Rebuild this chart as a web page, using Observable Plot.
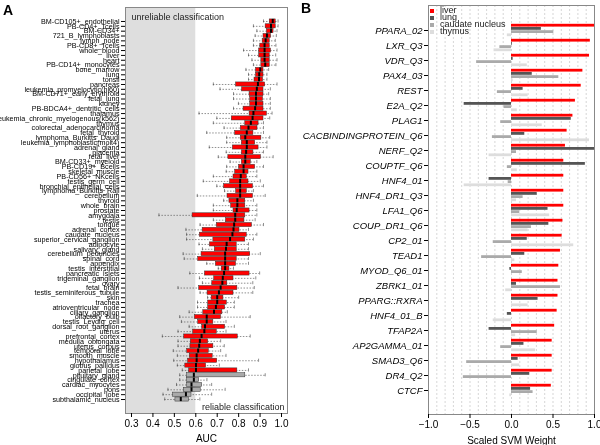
<!DOCTYPE html>
<html><head><meta charset="utf-8">
<script src="https://cdn.jsdelivr.net/npm/d3@7"></script>
<script src="https://cdn.jsdelivr.net/npm/@observablehq/plot@0.6"></script>
<style>
html,body{margin:0;padding:0;background:#fff;}
#wrap{position:relative;width:600px;height:445px;overflow:hidden;font-family:"Liberation Sans",Arial,Helvetica,sans-serif;}
#panelA,#panelB{position:absolute;top:0;}
#panelA{left:0;} #panelB{left:300px;}
#wrap svg{opacity:0.999;will-change:transform;}
.plab{position:absolute;font-weight:bold;font-size:14px;line-height:14px;}
#legend{position:absolute;left:430px;top:7px;font-size:9px;}
.li{display:flex;align-items:center;height:7px;line-height:7px;}
.sw{width:4px;height:4px;margin-right:6px;}
</style></head>
<body>
<div id="wrap">
  <div id="panelA"></div>
  <div id="panelB"></div>
  <div class="plab" style="left:3px;top:3px;">A</div>
  <div class="plab" style="left:301px;top:1px;">B</div>
  <div id="legend"></div>
</div>
<script>
// ---------- Panel A data ----------
const tissues = ["BM-CD105+_endothelial","PB-CD4+_Tcells","BM-CD34+","721_B_lymphoblasts","lymph_node","PB-CD8+_Tcells","whole_blood","liver","heart","PB-CD14+_monocytes","bone_marrow","lung","tonsil","pancreas","leukemia_promyelocytic(hl60)","BM-CD71+_early_erythroid","fetal_lung","kidney","PB-BDCA4+_dentritic_cells","thalamus","leukemia_chronic_myelogenous(k562)","thymus","colorectal_adenocarcinoma","fetal_thyroid","lymphoma_Burkitts_Daudi","leukemia_lymphoblastic(molt4)","adrenal_gland","placenta","fetal_liver","BM-CD33+_myeloid","PB-CD19+_Bcells","skeletal_muscle","PB-CD56+_NKcells","testis_germ_cell","bronchial_epithelial_cells","lymphoma_Burkitts_Raji","cerebellum","thyroid","whole_brain","prostate","amygdala","testis","tongue","adrenal_cortex","caudate_nucleus","superior_cervical_ganglion","adipocyte","salivary_gland","cerebellum_peduncles","spinal_cord","appendix","testis_interstitial","pancreatic_islets","trigeminal_ganglion","ovary","fetal_brain","testis_seminiferous_tubule","skin","trachea","atrioventricular_node","ciliary_ganglion","olfactory_bulb","testis_Leydig_cell","dorsal_root_ganglion","uterus","prefrontal_cortex","medulla_oblongata","uterus_corpus","temporal_lobe","smooth_muscle","hypothalamus","globus_pallidus","parietal_lobe","pituitary_gland","cingulate_cortex","cardiac_myocytes","pons","occipital_lobe","subthalamic_nucleus"];
const whiskerLow = [0.916,0.869,0.885,0.877,0.869,0.869,0.823,0.846,0.862,0.869,0.834,0.846,0.846,0.682,0.713,0.776,0.776,0.799,0.776,0.615,0.698,0.682,0.732,0.651,0.744,0.744,0.663,0.742,0.705,0.760,0.744,0.742,0.682,0.635,0.698,0.734,0.607,0.730,0.682,0.682,0.428,0.682,0.620,0.554,0.557,0.557,0.615,0.631,0.541,0.546,0.651,0.705,0.572,0.617,0.631,0.517,0.620,0.655,0.608,0.608,0.569,0.525,0.533,0.569,0.517,0.444,0.517,0.517,0.495,0.514,0.497,0.514,0.537,0.525,0.525,0.510,0.470,0.447,0.455];
const quart1 = [0.945,0.926,0.932,0.916,0.912,0.901,0.896,0.896,0.906,0.906,0.881,0.881,0.874,0.788,0.816,0.851,0.854,0.854,0.823,0.851,0.768,0.831,0.810,0.784,0.810,0.815,0.773,0.815,0.752,0.815,0.802,0.784,0.776,0.760,0.732,0.788,0.748,0.757,0.765,0.776,0.585,0.741,0.698,0.632,0.619,0.682,0.666,0.689,0.627,0.611,0.694,0.721,0.643,0.686,0.677,0.616,0.655,0.674,0.658,0.658,0.635,0.596,0.611,0.630,0.588,0.546,0.577,0.575,0.560,0.572,0.564,0.551,0.569,0.560,0.560,0.560,0.544,0.494,0.505];
const median = [0.959,0.951,0.951,0.932,0.926,0.921,0.921,0.921,0.921,0.924,0.901,0.896,0.895,0.890,0.885,0.881,0.881,0.881,0.877,0.869,0.865,0.857,0.846,0.838,0.831,0.838,0.838,0.835,0.831,0.831,0.823,0.823,0.810,0.807,0.807,0.807,0.807,0.794,0.794,0.791,0.784,0.784,0.779,0.776,0.771,0.760,0.744,0.741,0.737,0.737,0.737,0.737,0.732,0.726,0.724,0.716,0.708,0.700,0.700,0.694,0.685,0.651,0.651,0.643,0.640,0.627,0.619,0.616,0.611,0.604,0.604,0.601,0.601,0.591,0.591,0.580,0.580,0.554,0.530];
const quart3 = [0.973,0.973,0.963,0.951,0.945,0.945,0.951,0.945,0.945,0.945,0.916,0.916,0.914,0.924,0.916,0.916,0.914,0.916,0.916,0.932,0.916,0.893,0.888,0.869,0.906,0.877,0.893,0.869,0.904,0.857,0.877,0.846,0.838,0.846,0.867,0.838,0.867,0.831,0.831,0.851,0.831,0.827,0.862,0.804,0.838,0.831,0.791,0.791,0.854,0.791,0.788,0.757,0.851,0.776,0.747,0.794,0.776,0.729,0.745,0.737,0.724,0.718,0.682,0.737,0.698,0.796,0.658,0.682,0.661,0.679,0.700,0.648,0.794,0.831,0.616,0.630,0.623,0.580,0.568];
const whiskerHigh = [0.984,0.984,0.979,0.976,0.971,0.974,0.979,0.973,0.979,0.974,0.940,0.932,0.932,0.979,0.948,0.940,0.948,0.948,0.948,0.956,0.945,0.916,0.916,0.916,0.945,0.932,0.932,0.916,0.961,0.885,0.916,0.885,0.885,0.901,0.916,0.869,0.924,0.869,0.885,0.885,0.885,0.877,0.916,0.846,0.885,0.869,0.846,0.846,0.901,0.846,0.846,0.776,0.898,0.880,0.866,0.873,0.866,0.800,0.780,0.780,0.747,0.854,0.741,0.780,0.741,0.854,0.716,0.733,0.716,0.741,0.893,0.710,0.846,0.924,0.652,0.674,0.737,0.674,0.619];
const aucThreshold = 0.6;
const aucTicks = [0.3,0.4,0.5,0.6,0.7,0.8,0.9,1.0];
const regionLabels = ["unreliable classification","reliable classification"];

// ---------- Panel B data ----------
const motifs = ["PPARA_02","LXR_Q3","VDR_Q3","PAX4_03","REST","E2A_Q2","PLAG1","CACBINDINGPROTEIN_Q6","NERF_Q2","COUPTF_Q6","HNF4_01","HNF4_DR1_Q3","LFA1_Q6","COUP_DR1_Q6","CP2_01","TEAD1","MYOD_Q6_01","ZBRK1_01","PPARG::RXRA","HNF4_01_B","TFAP2A","AP2GAMMA_01","SMAD3_Q6","DR4_Q2","CTCF"];
const seriesNames = ["liver","lung","caudate nucleus","thymus"];
const seriesColors = ["#ff0000","#555555","#aaaaaa","#dddddd"];
const liverW   = [1.00,0.95,0.94,0.86,0.84,0.77,0.74,0.67,0.65,0.63,0.63,0.63,0.63,0.62,0.61,0.59,0.57,0.56,0.56,0.55,0.52,0.49,0.49,0.49,0.48];
const lungW    = [0.36,0.01,0.02,0.25,0.14,-0.57,0.72,0.16,1.00,0.89,-0.27,0.31,0.44,0.45,0.19,0.16,-0.02,0.06,0.32,-0.05,-0.27,0.15,0.08,0.22,0.23];
const caudateW = [0.51,-0.14,-0.42,0.57,-0.17,-0.09,-0.13,-0.23,0.06,-0.05,-0.04,0.14,0.10,0.24,-0.22,-0.36,0.13,0.59,0.00,0.00,0.31,-0.13,-0.54,-0.58,0.26];
const thymusW  = [-0.05,-0.21,0.19,0.02,0.20,0.07,0.37,0.94,-0.27,0.07,-0.57,0.06,0.46,0.20,0.75,0.04,0.00,-0.07,0.20,-0.22,0.05,0.29,0.10,0.00,-0.02];
const svmTicks = [-1,-0.5,0,0.5,1];
const svmGrid = [-0.9,-0.8,-0.7,-0.6,-0.5,-0.4,-0.3,-0.2,-0.1,0,0.1,0.2,0.3,0.4,0.5,0.6,0.7,0.8,0.9];

const FONT = "'Liberation Sans', Arial, Helvetica, sans-serif";

// ---------- Panel A ----------
const boxes = tissues.map((t, i) => ({t, lo: whiskerLow[i], q1: quart1[i], med: median[i], q3: quart3[i], hi: whiskerHigh[i]}));
const aucDomain = [0.272, 1.028];
const chartA = Plot.plot({
  width: 300, height: 445,
  marginLeft: 125, marginRight: 13, marginTop: 7, marginBottom: 32,
  style: {fontFamily: FONT, background: "white", color: "black"},
  x: {domain: aucDomain, label: "AUC"},
  y: {type: "band", domain: tissues, paddingInner: 0.15, paddingOuter: 2.46, label: null},
  marks: [
    Plot.rect([aucThreshold], {x1: aucDomain[0], x2: d => d, fill: "#dedede"}),
    Plot.ruleY(boxes, {y: "t", x1: "lo", x2: "hi", stroke: "#444", strokeWidth: 0.6, strokeDasharray: "1.5,1.5"}),
    Plot.tickX(boxes, {x: "lo", y: "t", stroke: "#444", strokeWidth: 0.6, insetTop: 0.5, insetBottom: 0.5}),
    Plot.tickX(boxes, {x: "hi", y: "t", stroke: "#444", strokeWidth: 0.6, insetTop: 0.5, insetBottom: 0.5}),
    Plot.barX(boxes, {x1: "q1", x2: "q3", y: "t", fill: d => d.med >= aucThreshold ? "#ff0000" : "#aaaaaa", stroke: "#333", strokeWidth: 0.5}),
    Plot.tickX(boxes, {x: "med", y: "t", stroke: "black", strokeWidth: 2}),
    Plot.text([regionLabels[0]], {text: d => d, frameAnchor: "top-left", dx: 6, dy: 6, fontSize: 9, fill: "#222"}),
    Plot.text([regionLabels[1]], {text: d => d, frameAnchor: "bottom-right", dx: -3, dy: -4, fontSize: 9, fill: "#222"}),
    Plot.frame({stroke: "#888"}),
    Plot.axisX({ticks: aucTicks, tickFormat: d3.format(".1f"), tickSize: 4, tickPadding: 2, fontSize: 10, label: "AUC", labelAnchor: "center", labelArrow: "none", labelOffset: 28}),
    Plot.axisY({tickSize: 4, tickPadding: 2, fontSize: 7.2, fill: "black", label: null})
  ]
});
document.getElementById("panelA").appendChild(chartA);

// ---------- Panel B ----------
const series = [liverW, lungW, caudateW, thymusW];
const offsets = [-4.8, -1.6, 1.6, 4.8];
const bandStep = 409 / (25 - 0.2 + 2);
const bw = bandStep * 0.8;
const barMarks = series.map((vals, s) =>
  Plot.barX(motifs.map((m, i) => ({m, v: vals[i]})), {
    x1: 0, x2: "v", y: "m", fill: seriesColors[s],
    insetTop: (bw - 3) / 2, insetBottom: (bw - 3) / 2, dy: offsets[s]
  })
);
const chartB = Plot.plot({
  width: 300, height: 445,
  marginLeft: 128, marginRight: 6, marginTop: 5, marginBottom: 31,
  style: {fontFamily: FONT, background: "white", color: "black"},
  x: {domain: [-1, 1], label: "Scaled SVM Weight"},
  y: {type: "band", domain: motifs, paddingInner: 0.2, paddingOuter: 1.0, label: null},
  marks: [
    Plot.gridX(svmGrid, {stroke: "#bbbbbb", strokeOpacity: 1, strokeWidth: 0.6, strokeDasharray: "2,2"}),
    ...barMarks,
    Plot.frame({stroke: "#888"}),
    Plot.axisX({ticks: svmTicks, tickFormat: d3.format(".1f"), tickSize: 4, tickPadding: 2, fontSize: 10, label: "Scaled SVM Weight", labelAnchor: "center", labelArrow: "none", labelOffset: 29}),
    Plot.axisY({tickSize: 4, tickPadding: 2, fontSize: 9.5, fontStyle: "italic", label: null})
  ]
});
document.getElementById("panelB").appendChild(chartB);

// ---------- Legend ----------
const leg = document.getElementById("legend");
seriesNames.forEach((n, i) => {
  const row = document.createElement("div"); row.className = "li";
  const sw = document.createElement("span"); sw.className = "sw"; sw.style.background = seriesColors[i];
  const tx = document.createElement("span"); tx.textContent = n; tx.style.color = "#222";
  row.appendChild(sw); row.appendChild(tx); leg.appendChild(row);
});
</script>
</body></html>
